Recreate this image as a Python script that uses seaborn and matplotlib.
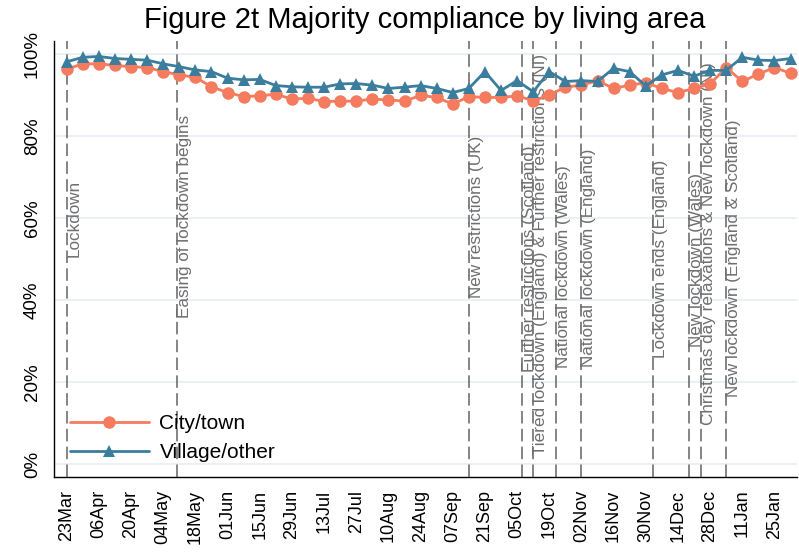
import matplotlib
matplotlib.use("Agg")
import matplotlib.pyplot as plt
import numpy as np
import pandas as pd
import seaborn as sns

# weekly survey waves
dates = pd.date_range("2020-03-23", periods=46, freq="7D")

city = [96.3, 97.6, 97.6, 97.2, 96.9, 96.7, 95.7, 94.9, 94.3, 92.0,
        90.6, 89.6, 89.8, 90.2, 89.0, 89.2, 88.4, 88.5, 88.5, 89.0,
        88.8, 88.5, 89.9, 89.4, 87.8, 89.6, 89.4, 89.4, 89.8, 88.6,
        90.0, 91.9, 92.4, 93.5, 91.6, 92.4, 93.0, 91.6, 90.6, 91.6,
        92.7, 96.7, 93.3, 95.1, 96.7, 95.3]
village = [98.1, 99.2, 99.4, 98.9, 98.7, 98.5, 97.6, 96.9, 96.1, 95.7,
           94.1, 93.7, 93.8, 92.3, 92.0, 91.9, 91.9, 92.7, 92.8, 92.4,
           91.6, 91.9, 92.3, 91.6, 90.6, 91.6, 95.7, 91.1, 93.5, 90.8,
           95.7, 93.3, 93.5, 93.3, 96.5, 95.7, 92.2, 94.9, 96.0, 94.6,
           96.0, 96.0, 99.2, 98.5, 98.4, 98.9]

# policy events (date, label, where the label ends at the bottom, in %)
event_dates = pd.to_datetime(["2020-03-23", "2020-05-10", "2020-09-14", "2020-10-07",
                              "2020-10-12", "2020-10-22", "2020-11-02", "2020-12-03",
                              "2020-12-19", "2020-12-24", "2021-01-04"])
event_labels = ["Lockdown", "Easing of lockdown begins", "New restrictions (UK)",
                "Further restrictions (Scotland)",
                "Tiered lockdown (England) & Further restrictions (NI)",
                "National lockdown (Wales)", "National lockdown (England)",
                "Lockdown ends (England)", "New lockdown (Wales)",
                "Christmas day relaxations & New lockdown (NI)",
                "New lockdown (England & Scotland)"]
event_label_bottom = [50.5, 35.6, 40.5, 22.4, 2.2, 23.4, 23.7, 25.9, 28.5, 9.5, 16.3]

tick_dates = pd.date_range("2020-03-23", "2021-01-25", freq="14D")
y_ticks = [0, 20, 40, 60, 80, 100]

df = pd.DataFrame({
    "date": list(dates) * 2,
    "value": city + village,
    "area": ["City/town"] * len(city) + ["Village/other"] * len(village),
})

sns.set_style("white")
plt.rcParams["font.family"] = ["Liberation Sans", "DejaVu Sans"]
plt.rcParams["text.color"] = "black"
plt.rcParams["xtick.color"] = "black"
plt.rcParams["ytick.color"] = "black"

fig = plt.figure(figsize=(7.99, 5.57), dpi=100)
ax = fig.add_axes([0.067, 0.1436, 0.931, 0.7828])

sns.lineplot(data=df, x="date", y="value", hue="area", style="area",
             markers={"City/town": "o", "Village/other": "^"}, dashes=False,
             palette={"City/town": "#f47b5e", "Village/other": "#3a7d9c"},
             linewidth=2, markersize=9, markeredgewidth=0, ax=ax, zorder=3)

for d, lab, yb in zip(event_dates, event_labels, event_label_bottom):
    ax.axvline(d, color="#6f6f6f", lw=1.2, dashes=(7.5, 3.2), zorder=1)
    ax.text(d, yb, lab, rotation=90, ha="left", va="bottom", fontsize=12.3,
            color="#6f6f6f", zorder=2)

ax.set_xlim(pd.Timestamp("2020-03-17 06:00"), pd.Timestamp("2021-02-04"))
ax.set_ylim(-3.17, 103.17)
ax.set_xticks(tick_dates)
ax.set_xticklabels([d.strftime("%d%b") for d in tick_dates], rotation=90, fontsize=13)
ax.set_yticks(y_ticks)
ax.set_yticklabels([f"{v}%" for v in y_ticks], rotation=90, va="center", fontsize=13.5)
ax.tick_params(axis="both", length=6, width=1, color="black", direction="out")
ax.tick_params(axis="x", pad=3)
ax.tick_params(axis="y", pad=3)
ax.set_xlabel("")
ax.set_ylabel("")

ax.yaxis.grid(True, color="#e6edf2", lw=1.2)
ax.xaxis.grid(False)
ax.set_axisbelow(True)
for s in ["top", "right"]:
    ax.spines[s].set_visible(False)
for s in ["left", "bottom"]:
    ax.spines[s].set_color("black")
    ax.spines[s].set_linewidth(1)

handles, labels = ax.get_legend_handles_labels()
ax.legend(handles, labels, loc="lower left", bbox_to_anchor=(0.008, 0.01),
          frameon=False, fontsize=15, handlelength=3.8, borderpad=0,
          labelspacing=0.5, handletextpad=0.5)

fig.text(0.532, 1 - 20 / 557, "Figure 2t Majority compliance by living area",
         ha="center", va="center", fontsize=21)

fig.savefig("out.png", dpi=100)
